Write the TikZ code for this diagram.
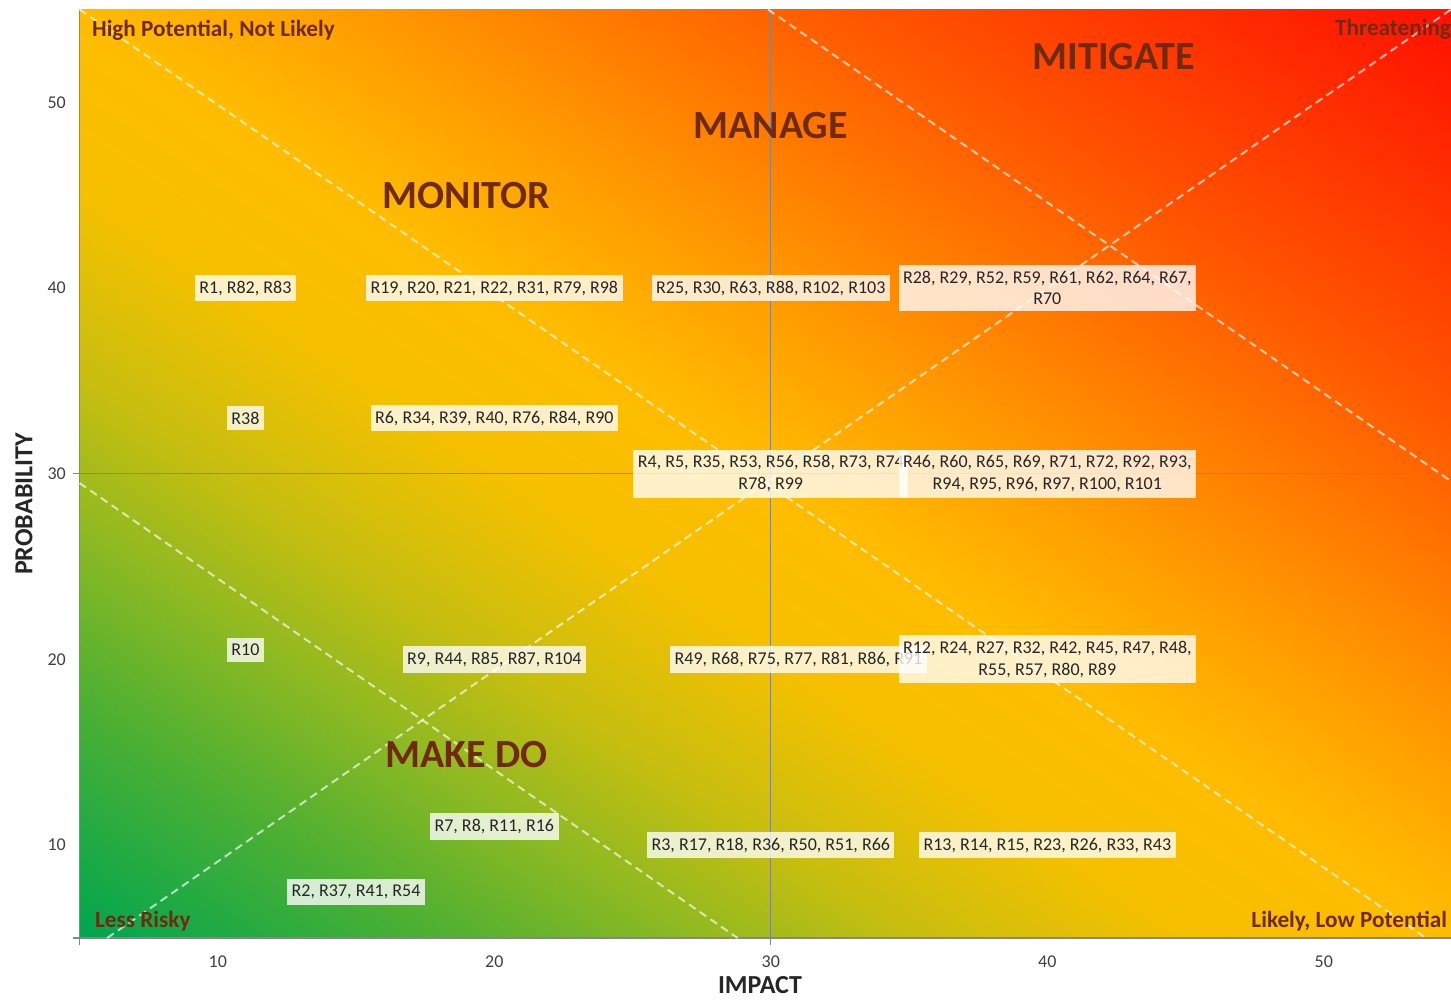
\documentclass[tikz,border=0pt]{standalone}
\usepackage{fontspec}
\setmainfont{Carlito}
\usetikzlibrary{positioning}
\definecolor{zonebrown}{RGB}{112,42,16}
\definecolor{axisgray}{RGB}{134,134,134}
\definecolor{ticktext}{RGB}{64,64,64}
\definecolor{heatA}{RGB}{0,166,80}
\definecolor{heatB}{RGB}{80,176,50}
\definecolor{heatC}{RGB}{140,185,35}
\definecolor{heatD}{RGB}{200,190,15}
\definecolor{heatE}{RGB}{245,192,0}
\definecolor{heatF}{RGB}{255,188,0}
\definecolor{heatG}{RGB}{255,160,0}
\definecolor{heatH}{RGB}{255,128,0}
\definecolor{heatI}{RGB}{255,85,0}
\definecolor{heatJ}{RGB}{255,15,0}
\pgfdeclareverticalshading{heatmap}{100bp}{color(0bp)=(heatA); color(14.64bp)=(heatA);
  color(24bp)=(heatB); color(30bp)=(heatC); color(36bp)=(heatD); color(43bp)=(heatE);
  color(50bp)=(heatF); color(56bp)=(heatG); color(62bp)=(heatH); color(70bp)=(heatI);
  color(85.36bp)=(heatJ); color(100bp)=(heatJ)}
\tikzset{
  riskbox/.style={fill=white, fill opacity=0.78, text opacity=1, text=black!85,
    inner xsep=4.5pt, inner ysep=6pt, align=center, font=\fontsize{18}{21.5}\selectfont},
  zone/.style={text=zonebrown, font=\fontsize{40}{48}\selectfont\bfseries},
  corner/.style={text=zonebrown, inner sep=0pt, font=\fontsize{23.2}{28}\selectfont\bfseries},
  ticklabel/.style={text=ticktext, inner sep=0pt, font=\fontsize{18}{21}\selectfont},
  axistitle/.style={text=black!85, inner sep=0pt, font=\fontsize{26}{31}\selectfont\bfseries},
  axisline/.style={axisgray, line width=1.3pt},
  guide/.style={white, opacity=0.65, line width=2pt, dash pattern=on 8pt off 5pt}
}
\begin{document}
\begin{tikzpicture}[x=27.65pt,y=18.57pt]
\useasboundingbox (2.125,1.607) rectangle (54.60,55.51);
% background: square shading squeezed to the plot height
\begin{scope}[y=27.65pt, transform canvas={yscale=0.67161}]
\shade[shading=heatmap, shading angle=-45] (5,5) rectangle (55,55);
\end{scope}
% axes, crossing at 30
\draw[axisline] (4.75,5) -- (55,5) (5,4.62) -- (5,55);
\draw[axisline] (4.75,30) -- (55,30) (30,4.62) -- (30,55);
% dashed zone borders
\coordinate (g1) at (6,5);
\coordinate (g2) at (54.6,55);
\coordinate (g3) at (5,55);
\coordinate (g4) at (53.7,5);
\coordinate (g5) at (29.9,55);
\coordinate (g6) at (54.6,29.6);
\coordinate (g7) at (5,29.5);
\coordinate (g8) at (28.8,5);
\path[guide] (g1) edge (g2) (g3) edge (g4) (g5) edge (g6) (g7) edge (g8);
% zones
\node[zone] (mitigate) at (42.4,52.45) {MITIGATE};
\node[zone] (manage) at (30,48.75) {MANAGE};
\node[zone] (monitor) at (19,45) {MONITOR};
\node[zone] (makedo) at (19,14.9) {MAKE DO};
\node[corner, anchor=base west] (hipot) at (5.45,53.57) {High Potential, Not Likely};
\node[corner, anchor=base west] (threat) at (50.4,53.6) {Threatening};
\node[corner, anchor=base west] (lessrisk) at (5.56,5.54) {Less Risky};
\node[corner, anchor=base east] (lowpot) at (54.46,5.59) {Likely, Low Potential};
% risks
\node[riskbox] (r1) at (11,40) {R1, R82, R83};
\node[riskbox] (r19) at (20,40) {R19, R20, R21, R22, R31, R79, R98};
\node[riskbox] (r25) at (30,40) {R25, R30, R63, R88, R102, R103};
\node[riskbox] (r28) at (40,40) {R28, R29, R52, R59, R61, R62, R64, R67,\\R70};
\node[riskbox] (r38) at (11,33) {R38};
\node[riskbox] (r6) at (20,33) {R6, R34, R39, R40, R76, R84, R90};
\node[riskbox] (r4) at (30,30) {R4, R5, R35, R53, R56, R58, R73, R74\\R78, R99};
\node[riskbox] (r46) at (40,30) {R46, R60, R65, R69, R71, R72, R92, R93,\\R94, R95, R96, R97, R100, R101};
\node[riskbox] (r10) at (11,20.5) {R10};
\node[riskbox] (r9) at (20,20) {R9, R44, R85, R87, R104};
\node[riskbox] (r49) at (31,20) {R49, R68, R75, R77, R81, R86, R91};
\node[riskbox] (r12) at (40,20) {R12, R24, R27, R32, R42, R45, R47, R48,\\R55, R57, R80, R89};
\node[riskbox] (r7) at (20,11) {R7, R8, R11, R16};
\node[riskbox] (r3) at (30,10) {R3, R17, R18, R36, R50, R51, R66};
\node[riskbox] (r13) at (40,10) {R13, R14, R15, R23, R26, R33, R43};
\node[riskbox] (r2) at (15,7.5) {R2, R37, R41, R54};
% axis labels
\foreach \v in {10,20,...,50} {
  \node[ticklabel] (xt\v) at (\v,3.71) {\v};
  \node[ticklabel, anchor=east] (yt\v) at (4.51,\v) {\v};
}
\node[axistitle, rotate=90] (ytitle) at (2.99,28.37) {PROBABILITY};
\node[axistitle] (xtitle) at (29.61,2.45) {IMPACT};
\end{tikzpicture}
\end{document}
